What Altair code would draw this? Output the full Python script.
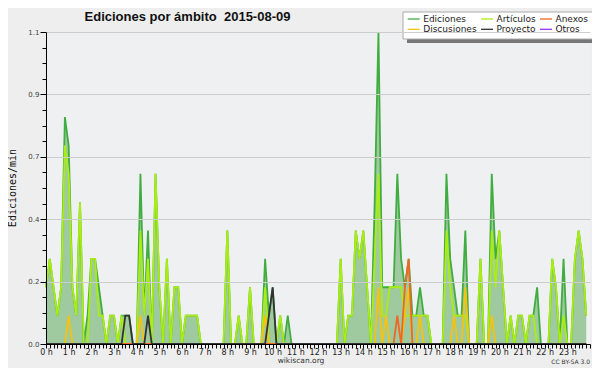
import altair as alt
import pandas as pd

# --- data: edits per minute, 10-minute bins (6 values per hour, hours 0..23) ---
series = ["Ediciones", "Artículos", "Anexos", "Discusiones", "Proyecto", "Otros"]
colors = ["#40ad40", "#aaee11", "#f26522", "#f5c211", "#333333", "#9933ff"]

ediciones = [
    0.2, 0.3, 0.2, 0.1, 0.2, 0.8,
    0.7, 0.2, 0.1, 0.5, 0.0, 0.1,
    0.3, 0.3, 0.2, 0.1, 0.0, 0.1,
    0.1, 0.0, 0.1, 0.1, 0.1, 0.0,
    0.0, 0.6, 0.1, 0.4, 0.0, 0.6,
    0.2, 0.0, 0.3, 0.0, 0.2, 0.2,
    0.0, 0.1, 0.1, 0.1, 0.1, 0.0,
    0.0, 0.0, 0.0, 0.0, 0.0, 0.0,
    0.4, 0.0, 0.0, 0.1, 0.0, 0.0,
    0.2, 0.0, 0.0, 0.0, 0.3, 0.1,
    0.2, 0.0, 0.1, 0.0, 0.1, 0.0,
    0.0, 0.0, 0.0, 0.0, 0.0, 0.0,
    0.0, 0.0, 0.0, 0.0, 0.0, 0.0,
    0.3, 0.0, 0.1, 0.1, 0.4, 0.3,
    0.4, 0.2, 0.0, 0.5, 1.1, 0.2,
    0.2, 0.2, 0.2, 0.6, 0.3, 0.2,
    0.3, 0.1, 0.1, 0.2, 0.1, 0.1,
    0.0, 0.0, 0.0, 0.0, 0.6, 0.3,
    0.2, 0.1, 0.1, 0.4, 0.0, 0.0,
    0.0, 0.3, 0.0, 0.0, 0.6, 0.3,
    0.4, 0.2, 0.0, 0.1, 0.0, 0.1,
    0.1, 0.0, 0.1, 0.1, 0.2, 0.0,
    0.0, 0.0, 0.3, 0.2, 0.0, 0.3,
    0.0, 0.0, 0.3, 0.4, 0.3, 0.1,
]

articulos = [
    0.2, 0.3, 0.2, 0.1, 0.2, 0.7,
    0.6, 0.2, 0.1, 0.5, 0.0, 0.0,
    0.3, 0.3, 0.1, 0.1, 0.0, 0.1,
    0.1, 0.0, 0.1, 0.0, 0.0, 0.0,
    0.0, 0.4, 0.1, 0.3, 0.0, 0.6,
    0.2, 0.0, 0.3, 0.0, 0.2, 0.2,
    0.0, 0.1, 0.1, 0.1, 0.1, 0.0,
    0.0, 0.0, 0.0, 0.0, 0.0, 0.0,
    0.4, 0.0, 0.0, 0.1, 0.0, 0.0,
    0.2, 0.0, 0.0, 0.0, 0.2, 0.0,
    0.0, 0.0, 0.1, 0.0, 0.0, 0.0,
    0.0, 0.0, 0.0, 0.0, 0.0, 0.0,
    0.0, 0.0, 0.0, 0.0, 0.0, 0.0,
    0.3, 0.0, 0.1, 0.1, 0.4, 0.3,
    0.4, 0.2, 0.0, 0.3, 0.6, 0.1,
    0.1, 0.2, 0.2, 0.2, 0.2, 0.1,
    0.1, 0.1, 0.1, 0.1, 0.1, 0.1,
    0.0, 0.0, 0.0, 0.0, 0.4, 0.2,
    0.1, 0.1, 0.1, 0.1, 0.0, 0.0,
    0.0, 0.3, 0.0, 0.0, 0.4, 0.2,
    0.4, 0.2, 0.0, 0.1, 0.0, 0.1,
    0.1, 0.0, 0.1, 0.1, 0.0, 0.0,
    0.0, 0.0, 0.3, 0.2, 0.0, 0.1,
    0.0, 0.0, 0.3, 0.4, 0.3, 0.1,
]

# sparse series: {bin index: value}, all other bins are zero
anexos_points = {93: 0.1, 95: 0.2, 96: 0.3}
discusiones_points = {6: 0.1, 25: 0.1, 58: 0.1, 88: 0.2, 90: 0.1, 95: 0.1,
                      96: 0.2, 99: 0.1, 108: 0.1, 111: 0.2, 118: 0.1}
proyecto_points = {21: 0.1, 22: 0.1, 27: 0.1, 59: 0.1, 60: 0.2}
otros_points = {}

def expand(points):
    vals = [0.0] * 144
    for k, v in points.items():
        vals[k] = v
    return vals

anexos = expand(anexos_points)
discusiones = expand(discusiones_points)
proyecto = expand(proyecto_points)
otros = expand(otros_points)

title_text = "Ediciones por ámbito\u00a0 2015-08-09"
y_title = "Ediciones/min"

rows = []
for s, vals in zip(series, [ediciones, articulos, anexos, discusiones, proyecto, otros]):
    for i, v in enumerate(vals):
        rows.append({"i": i, "serie": s, "value": v})
df = pd.DataFrame(rows)

W, H = 544, 312
major = "abs(datum.value/0.22 - round(datum.value/0.22)) < 0.01"
y_ticks = [round(k * 0.055, 4) for k in range(21)]

X = alt.X(
    "i:Q",
    scale=alt.Scale(domain=[0, 144], nice=False, zero=False),
    axis=alt.Axis(
        values=list(range(145)),
        labelExpr="datum.value % 6 == 0 && datum.value < 144 ? (datum.value / 6) + ' h' : ''",
        title=None, grid=False, tickColor="black", domainColor="black",
        tickSize=4, labelFont="DejaVu Sans", labelFontSize=8, labelColor="#222222",
        labelOverlap=False, labelFlush=False, labelPadding=0, zindex=1,
    ),
)
Y = alt.Y(
    "value:Q",
    scale=alt.Scale(domain=[0, 1.1], nice=False),
    axis=alt.Axis(
        values=y_ticks,
        labelExpr=major + " ? format(datum.value, '.1f') : ''",
        title=None,
        gridColor={"condition": {"test": major, "value": "#cccccc"}, "value": "transparent"},
        tickSize={"condition": {"test": major, "value": 6}, "value": 4},
        tickColor="black", domainColor="black",
        labelFont="DejaVu Sans", labelFontSize=7, labelColor="#444444",
        labelOverlap=False, labelPadding=1, zindex=1,
    ),
)

cscale = alt.Scale(domain=series, range=colors)

base = alt.Chart(df)
area = base.transform_filter(alt.datum.serie == "Ediciones").mark_area(
    color="#9fc99f", opacity=1
).encode(x=X, y=Y)

draw_order = ["Otros", "Ediciones", "Artículos", "Discusiones", "Anexos", "Proyecto"]
lines = [
    base.transform_filter(alt.datum.serie == s).mark_line(strokeWidth=1.8).encode(
        x=X, y=Y, color=alt.Color("serie:N", scale=cscale, legend=None)
    )
    for s in draw_order
]

# --- hand-laid legend box (3 columns x 2 rows), layout in pixels from the plot's corner ---
leg_col_x = [361.7, 435.0, 494.0]
leg_row_y = [-13.0, -2.7]
leg_rows = []
for k, s in enumerate(series):
    sx = leg_col_x[k % 3]
    sy = leg_row_y[k // 3]
    leg_rows.append({"serie": s, "sx": sx, "sx2": sx + 12, "tx": sx + 15.5, "sy": sy})
leg_df = pd.DataFrame(leg_rows)

one = pd.DataFrame({"t": [title_text], "y": [y_title]})
shadow = alt.Chart(one).mark_rect(color="#777777").encode(
    x=alt.value(361), x2=alt.value(551), y=alt.value(-16), y2=alt.value(11)
)
box = alt.Chart(one).mark_rect(fill="white", stroke="#aaaaaa", strokeWidth=1).encode(
    x=alt.value(357), x2=alt.value(547), y=alt.value(-20), y2=alt.value(7)
)
leg_sym = alt.Chart(leg_df).mark_rule(strokeWidth=1.3).encode(
    x=alt.X("sx:Q", scale=None), x2="sx2:Q", y=alt.Y("sy:Q", scale=None),
    color=alt.Color("serie:N", scale=cscale, legend=None),
)
leg_txt = alt.Chart(leg_df).mark_text(
    font="DejaVu Sans", fontSize=9, align="left", baseline="middle", color="#222222"
).encode(x=alt.X("tx:Q", scale=None), y=alt.Y("sy:Q", scale=None), text="serie:N")

title = alt.Chart(one).mark_text(
    font="Liberation Sans", fontSize=13, fontWeight="bold", align="center", baseline="alphabetic", color="#111111"
).encode(x=alt.value(141.5), y=alt.value(-11), text="t:N")
ytitle = alt.Chart(one).mark_text(
    font="DejaVu Sans Mono", fontSize=10, angle=270, align="center", baseline="middle", color="#111111"
).encode(x=alt.value(-33), y=alt.value(156), text="y:N")
foot = alt.Chart(pd.DataFrame({"t": ["wikiscan.org"]})).mark_text(
    font="DejaVu Sans", fontSize=7.5, align="center", baseline="alphabetic", color="#333333"
).encode(x=alt.value(255), y=alt.value(331), text="t:N")
lic = alt.Chart(pd.DataFrame({"t": ["CC BY-SA 3.0"]})).mark_text(
    font="DejaVu Sans", fontSize=6, align="right", baseline="alphabetic", color="#333333"
).encode(x=alt.value(544), y=alt.value(332), text="t:N")

chart = alt.layer(area, *lines, shadow, box, leg_sym, leg_txt, title, ytitle, foot, lic).properties(
    width=W, height=H,
    autosize=alt.AutoSizeParams(type="none"),
    padding={"left": 38, "top": 24, "right": 2, "bottom": 24},
    background="#eeeeee",
).configure_view(fill="#eff0f2", strokeWidth=0)

chart.save("out.html", embed_options={"renderer": "svg", "actions": False})
